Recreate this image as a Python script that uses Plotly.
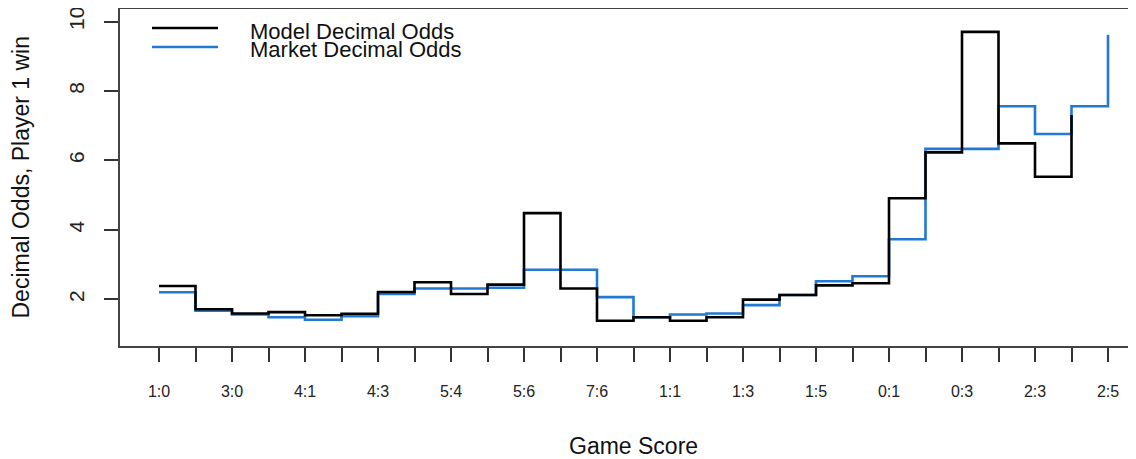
import plotly.graph_objects as go

# ---- data ----
positions = list(range(1, 28))
score_labels = ["1:0", "", "3:0", "", "4:1", "", "4:3", "", "5:4", "", "5:6", "", "7:6", "",
                "1:1", "", "1:3", "", "1:5", "", "0:1", "", "0:3", "", "2:3", "", "2:5"]
model_odds = [2.38, 1.71, 1.59, 1.63, 1.54, 1.58, 2.21, 2.49, 2.15, 2.42, 4.48, 2.31, 1.38,
              1.48, 1.38, 1.48, 1.99, 2.12, 2.40, 2.46, 4.91, 6.23, 9.70, 6.49, 5.53, 7.31]
market_odds = [2.20, 1.67, 1.56, 1.48, 1.41, 1.51, 2.15, 2.31, 2.31, 2.33, 2.85, 2.85, 2.06,
               1.48, 1.56, 1.59, 1.83, 2.12, 2.52, 2.66, 3.73, 6.33, 6.33, 7.56, 6.76, 7.56, 9.62]
y_ticks = [2, 4, 6, 8, 10]
series_names = ["Model Decimal Odds", "Market Decimal Odds"]
series_colors = ["#000000", "#2179d4"]

# page has an 8px body margin; work in page pixels and convert
OFF = 8
PAGE_W, PAGE_H = 1136, 459
W, H = PAGE_W - OFF, PAGE_H - OFF
plot_left, plot_top, plot_bottom = 120, 9, 346  # page pixels
L = plot_left - OFF
T = plot_top - OFF
B = (H + OFF) - plot_bottom
R = 0
pw, ph = W - L - R, H - T - B

def px(x_page):
    return (x_page - plot_left) / pw

def py(y_page):
    return (plot_bottom - y_page) / ph

fig = go.Figure()
fig.add_trace(go.Scatter(x=positions[:len(market_odds)], y=market_odds, mode="lines",
                         line=dict(shape="hv", color=series_colors[1], width=2.6),
                         name=series_names[1], showlegend=False))
fig.add_trace(go.Scatter(x=positions[:len(model_odds)], y=model_odds, mode="lines",
                         line=dict(shape="hv", color=series_colors[0], width=2.6),
                         name=series_names[0], showlegend=False))

font_fam = "Liberation Sans, Arial, sans-serif"

# legend (R-style, drawn manually)
legend_rows = [(28, 31), (47, 50)]
shapes = []
annotations = []
for (ly, ty), name, col in zip(legend_rows, series_names, series_colors):
    shapes.append(dict(type="line", xref="paper", yref="paper",
                       x0=px(152), x1=px(218), y0=py(ly), y1=py(ly),
                       line=dict(color=col, width=2.6)))
    annotations.append(dict(text=name, xref="paper", yref="paper", x=px(249), y=py(ty),
                            xanchor="left", yanchor="middle", showarrow=False, borderpad=0,
                            font=dict(size=22, color="#111", family=font_fam)))

annotations.append(dict(text="Game Score", xref="paper", yref="paper", x=px(633.5), y=py(446),
                        xanchor="center", yanchor="middle", showarrow=False, borderpad=0,
                        font=dict(size=23, color="#111", family=font_fam)))
annotations.append(dict(text="Decimal Odds, Player 1 win", xref="paper", yref="paper",
                        x=px(20), y=py(177.5), xanchor="center", yanchor="middle",
                        textangle=-90, showarrow=False, borderpad=0,
                        font=dict(size=23, color="#111", family=font_fam)))

unit = 36.5
x_lo = 1 - (159 - plot_left) / unit
x_hi = 27 + (PAGE_W - 1108) / unit

fig.update_layout(
    width=W, height=H,
    margin=dict(l=L, r=R, t=T, b=B, pad=0),
    plot_bgcolor="white", paper_bgcolor="white",
    shapes=shapes, annotations=annotations,
    font=dict(family=font_fam, color="#222"),
    xaxis=dict(range=[x_lo, x_hi], tickmode="array", tickvals=positions, ticktext=score_labels,
               ticks="outside", ticklen=14, tickwidth=1.5, tickcolor="#333",
               showline=True, linecolor="#444", linewidth=1.5, mirror=True,
               showgrid=False, zeroline=False, tickfont=dict(size=16, color="#222"),
               ticklabelstandoff=16),
    yaxis=dict(range=[0.653, 10.36], tickmode="array", tickvals=y_ticks,
               ticktext=[str(v) for v in y_ticks],
               ticks="outside", ticklen=14, tickwidth=1.5, tickcolor="#333",
               showline=True, linecolor="#444", linewidth=1.5, mirror=False,
               showgrid=False, zeroline=False, tickangle=-90,
               tickfont=dict(size=21, color="#222"), ticklabelstandoff=12,
               ticklabeloverflow="allow"),
)

fig.write_html("out.html")
